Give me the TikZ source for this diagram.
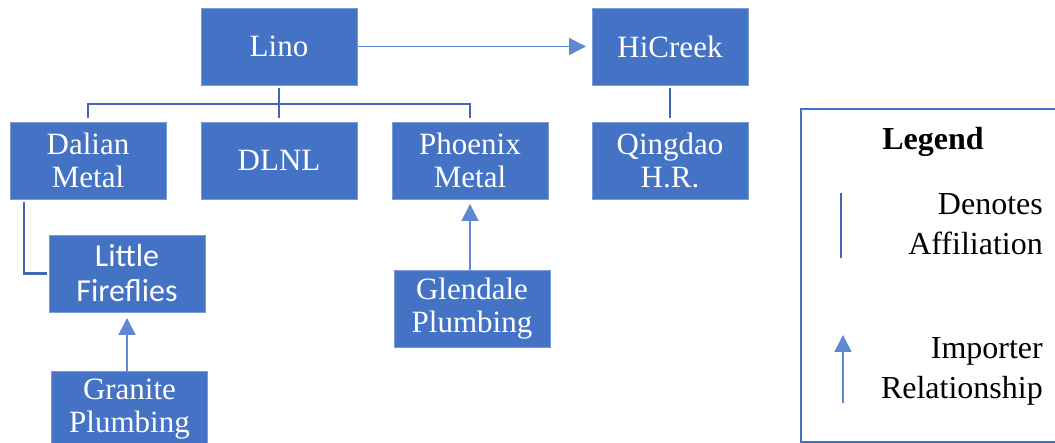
\documentclass[tikz,border=0pt]{standalone}
\usepackage{fontspec}
\setmainfont{Liberation Serif}
\newfontfamily\calibrifont{Carlito}
\usepackage{xcolor}
\usepackage{tikz}
\usetikzlibrary{positioning, arrows.meta}
\definecolor{boxblue}{HTML}{4472C4}
\definecolor{boxedge}{HTML}{7A9BD8}
\definecolor{affblue}{HTML}{3F68B5}
\definecolor{impblue}{HTML}{5F88D2}

\begin{document}
\begin{tikzpicture}[
			x=1pt, y=-1pt,
			firm/.style={
					rectangle, draw=boxedge, line width=0.8pt,
					fill=boxblue, text=white,
					minimum width=156pt, minimum height=77pt,
					align=center, inner sep=0pt, outer sep=0pt,
					font=\fontsize{31}{33}\selectfont
				},
			affil/.style={draw=affblue, line width=2.2pt},
			importer/.style={draw=impblue, line width=1.6pt,
					-{Triangle[length=17pt,width=17pt]}},
			legendtext/.style={align=right, inner sep=0pt,
					font=\fontsize{32}{40}\selectfont}
		]
		\useasboundingbox (0,0) rectangle (1055,443);
		% second row
		\node[firm] (dalian) at (88,160.5) {Dalian\\Metal};
		\node[firm, right=35pt of dalian] (dlnl) {DLNL};
		\node[firm, right=35pt of dlnl] (phoenix) {Phoenix\\Metal};
		\node[firm] (qingdao) at (670,160.5) {Qingdao\\H.R.};
		% top row
		\node[firm, above=37pt of dlnl] (lino) {Lino};
		\node[firm, above=37pt of qingdao] (hicreek) {HiCreek};
		% lower boxes
		\node[firm, font=\calibrifont\fontsize{32}{35}\selectfont] (fireflies) at (127,273.5) {Little\\Fireflies};
		\node[firm] (granite) at (129.5,409.5) {Granite\\Plumbing};
		\node[firm] (glendale) at (472,308.5) {Glendale\\Plumbing};

		% affiliation lines
		\draw[affil] ([yshift=-3pt]lino.south) -- ([yshift=4pt]dlnl.north);
		\draw[affil] ([yshift=4pt]dalian.north) -- ++(0,-14) -| ([yshift=4pt]phoenix.north);
		\draw[affil] ([yshift=-3pt]hicreek.south) -- ([yshift=4pt]qingdao.north);
		\draw[affil] ([xshift=-64pt,yshift=-3pt]dalian.south) |- ([xshift=-2pt]fireflies.west);

		% importer arrows
		\draw[importer, shorten >=6pt] ([xshift=1pt]lino.east) -- (hicreek.west);
		\draw[importer, shorten >=6pt] (granite.north -| fireflies.south) -- (fireflies.south);
		\draw[importer, shorten >=5pt] (glendale.north -| phoenix.south) -- (phoenix.south);

		% legend
		\draw[boxblue, line width=1.5pt] (1075,109) -- (801,109) -- (801,442) -- (1075,442);
		\node[font=\bfseries\fontsize{32}{40}\selectfont] (legend) at (933,142) {Legend};
		\coordinate (afftop) at (841,193);
		\coordinate (affbot) at (841,258);
		\draw[affil, line width=1.8pt] (afftop) -- (affbot);
		\node[legendtext, anchor=east] (afftext) at (1043,224) {Denotes\\Affiliation};
		\coordinate (imptail) at (843,403);
		\coordinate (imptip) at (843,335);
		\draw[importer] (imptail) -- (imptip);
		\node[legendtext, anchor=east] (imptext) at (1043,371) {Importer\\Relationship};
	\end{tikzpicture}
\end{document}
